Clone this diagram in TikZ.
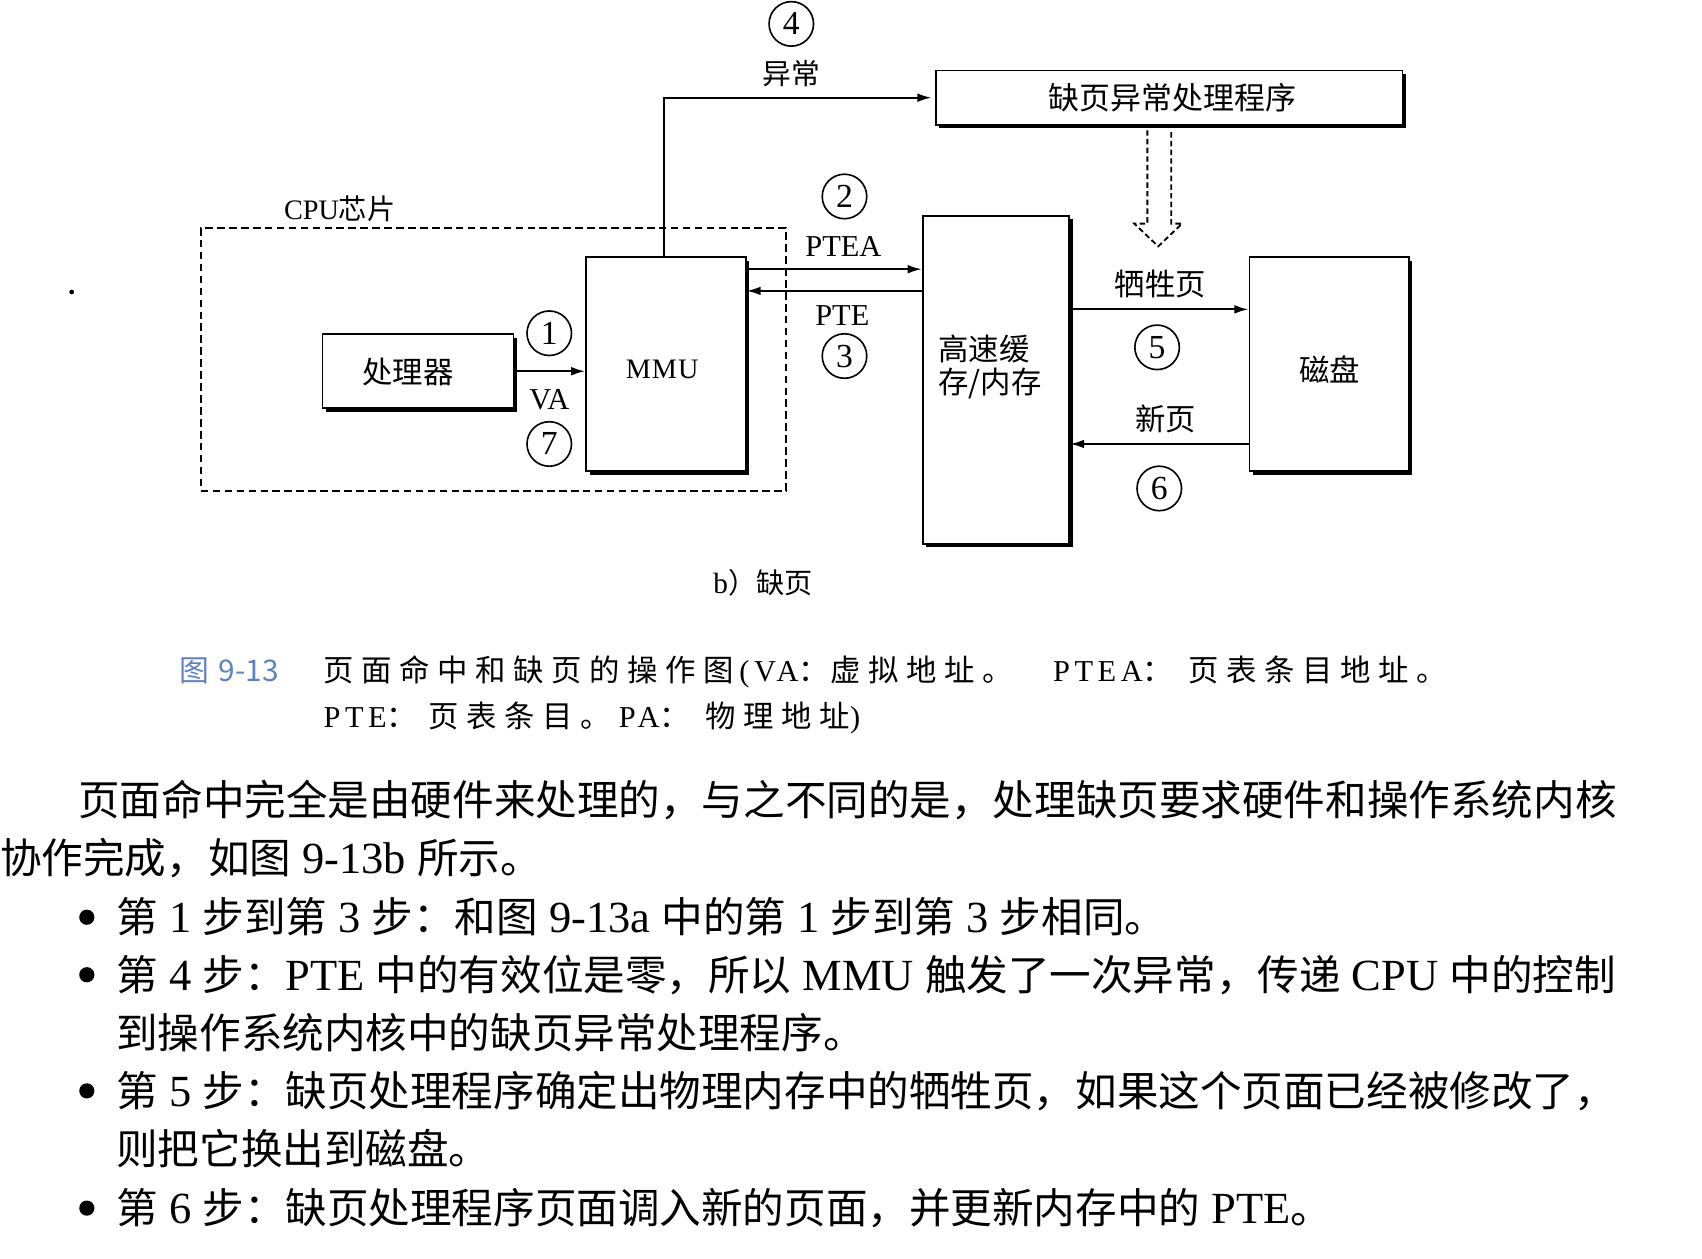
\documentclass[tikz,border=0pt]{standalone}
\usepackage{fontspec}
\setmainfont{Liberation Serif}
\newfontfamily\cjk{Noto Sans CJK SC}
\newfontfamily\cjkw[LetterSpace=25]{Noto Sans CJK SC}
\newfontfamily\latw[LetterSpace=15]{Liberation Serif}
\usetikzlibrary{shadows,arrows.meta}

\definecolor{figblue}{RGB}{95,130,195}

% font helpers
\newcommand\dgfont{\cjk\fontsize{28}{32}\selectfont}
\newcommand\dlfont{\rmfamily\fontsize{28}{32}\selectfont}
\newcommand\numfont{\rmfamily\fontsize{31}{32}\selectfont}
\newcommand\bdfont{\cjk\fontsize{38.3}{44}\selectfont}
\newcommand\capfont{\cjkw\fontsize{28}{32}\selectfont}
\newcommand\en[1]{{\rmfamily\fontsize{41}{44}\selectfont #1}}
\newcommand\lw[1]{{\latw #1}}

\tikzset{
  box/.style={draw, line width=1.6pt, fill=white, inner sep=0pt,
    drop shadow={shadow xshift=3.2pt, shadow yshift=-3.2pt, fill=black, opacity=1}},
  num/.style={circle, draw, line width=1.5pt, minimum size=41pt, inner sep=0pt, font=\numfont},
  lab/.style={inner sep=0pt},
  cjklab/.style={inner sep=0pt, font=\dgfont},
  latlab/.style={inner sep=0pt, font=\dlfont},
  arr/.style={-{Latex[length=13pt,width=8pt]}, line width=1.9pt},
  bodyline/.style={anchor=base west, inner sep=0pt, font=\bdfont},
  capline/.style={anchor=base west, inner sep=0pt, font=\capfont},
  bullet/.style={circle, fill=black, minimum size=14pt, inner sep=0pt},
}

\begin{document}
\begin{tikzpicture}[x=1pt,y=-1pt]
\useasboundingbox (0,0) rectangle (1568,1159);
\fill[white] (0,0) rectangle (1568,1159);

% CPU chip outline
\node[draw, dash pattern=on 7pt off 4pt, line width=1.9pt, minimum width=539pt,
      minimum height=242pt, inner sep=0pt] (cpu) at (454.5,331) {};
\node[lab, font=\rmfamily\fontsize{26}{30}\selectfont] (cpulab) at (313,192) {CPU{\cjk 芯片}};

% blocks
\node[box, minimum width=176pt, minimum height=68pt] (proc) at (385,342) {};
\node[cjklab] at (376,343) {处理器};
\node[box, minimum width=147pt, minimum height=197pt] (mmu) at (613.5,335.5) {};
\node[lab, font=\rmfamily\fontsize{26}{30}\selectfont] at (610,340) {M\kern1pt M\kern1pt U};
\node[box, minimum width=135pt, minimum height=302pt] (cache) at (917.5,350) {};
\node[cjklab, align=left] at (912,338) {高速缓\\[-1pt]存/内存};
\node[box, minimum width=147pt, minimum height=197pt] (disk) at (1224.5,335.5) {};
\node[cjklab] at (1225,340) {磁盘};
\node[box, minimum width=430pt, minimum height=50pt] (handler) at (1077,90) {};
\node[cjklab, font=\cjk\fontsize{28.5}{32}\selectfont] at (1080,90) {缺页异常处理程序};

% connectors
\draw[arr] (proc.east) -- (proc.east -| mmu.west);
\draw[arr] ([xshift=-1.5pt]mmu.north) |- ([xshift=-3pt]handler.west);
\draw[arr] (mmu.east |- 0,248) -- (cache.west |- 0,248);
\draw[arr] (cache.west |- 0,268) -- (mmu.east |- 0,268);
\draw[arr] (cache.east |- 0,285) -- (disk.west |- 0,285);
\draw[arr] (disk.west |- 0,409) -- (cache.east |- 0,409);

% hollow dashed arrow from the handler
\draw[line width=1.7pt, dash pattern=on 5pt off 3pt]
  (1057,120) -- (1057,206) -- (1045,206) -- (1067,227) -- (1089,206) -- (1079,206) -- (1079,120);

% step numbers and labels
\node[num] (n4) at (729,22) {4};
\node[cjklab, font=\cjk\fontsize{26.5}{30}\selectfont] at (729,68) {异常};
\node[num] (n2) at (778,181) {2};
\node[latlab] at (777,227) {PTEA};
\node[latlab] at (776,291) {PTE};
\node[num] (n3) at (778,328) {3};
\node[num] (n1) at (506,307) {1};
\node[latlab] at (506,368) {VA};
\node[num] (n7) at (506,409) {7};
\node[cjklab] at (1069,262) {牺牲页};
\node[num] (n5) at (1066,320) {5};
\node[cjklab] at (1074,386) {新页};
\node[num] (n6) at (1068,450) {6};

% sub-caption
\node[lab, font=\cjk\fontsize{26}{30}\selectfont] (subcap) at (703,537) {\en{\fontsize{27}{30}\selectfont b}）缺页};

% figure caption (set piece by piece, the way the justified line spreads it)
\node[anchor=base west, inner sep=0pt, text=figblue, font=\cjk\fontsize{27.5}{30}\selectfont]
  (fignum) at (165,627.6) {图\hspace{9pt}9-13};
\node[capline] (c1a) at (298,627.6) {页面命中和缺页的操作图};
\node[capline] (c1b) at (681,627.6) {\lw{(VA}：};
\node[capline] (c1c) at (765,627.6) {虚拟地址。};
\node[capline] (c1d) at (970,627.6) {\lw{PTEA}：};
\node[capline] (c1e) at (1095,627.6) {页表条目地址。};
\node[capline] (c2a) at (298,670.6) {\lw{PTE}：};
\node[capline] (c2b) at (395,670.6) {页表条目。};
\node[capline] (c2c) at (570,670.6) {\lw{PA}：};
\node[capline] (c2d) at (650,670.6) {物理地址\lw{)}};

% body text
\node[bodyline] (t1) at (72,751.5)
  {页面命中完全是由硬件来处理的，与之不同的是，处理缺页要求硬件和操作系统内核};
\node[bodyline] (t2) at (0,804.5) {协作完成，如图\en{ 9-13b }所示。};

\node[bullet] (b1) at (80,845) {};
\node[bodyline] (t3) at (107,859.5)
  {第\en{ 1 }步到第\en{ 3 }步：和图\en{ 9-13a }中的第\en{ 1 }步到第\en{ 3 }步相同。};
\node[bullet] (b2) at (80,898) {};
\node[bodyline] (t4) at (107,912.5)
  {第\en{ 4 }步：\en{PTE }中的有效位是零，所以\en{ MMU }触发了一次异常，传递\en{ CPU }中的控制};
\node[bodyline] (t5) at (107,965.5) {到操作系统内核中的缺页异常处理程序。};
\node[bullet] (b3) at (80,1005) {};
\node[bodyline] (t6) at (107,1019.5)
  {第\en{ 5 }步：缺页处理程序确定出物理内存中的牺牲页，如果这个页面已经被修改了，};
\node[bodyline] (t7) at (107,1072.5) {则把它换出到磁盘。};
\node[bullet] (b4) at (80,1113) {};
\node[bodyline] (t8) at (107,1127.5)
  {第\en{ 6 }步：缺页处理程序页面调入新的页面，并更新内存中的\en{ PTE}。};

% small speck left of the figure
\fill (66,269) circle (2.2);
\end{tikzpicture}
\end{document}
